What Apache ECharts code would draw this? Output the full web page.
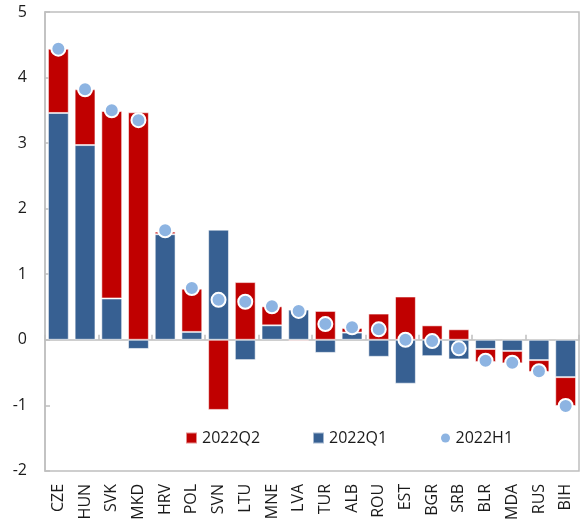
<!DOCTYPE html>
<html>
<head>
<meta charset="utf-8">
<script src="https://cdn.jsdelivr.net/npm/echarts@6/dist/echarts.min.js"></script>
<style>
  html, body { margin: 0; padding: 0; background: #fff; }
  #chart { width: 585px; height: 523px; }
</style>
</head>
<body>
<div id="chart"></div>
<script>
// Countries along the horizontal axis
const countries = ['CZE','HUN','SVK','MKD','HRV','POL','SVN','LTU','MNE','LVA',
                   'TUR','ALB','ROU','EST','BGR','SRB','BLR','MDA','RUS','BIH'];

// Quarterly contributions (stacked bars)
const q1Values = [3.46, 2.97, 0.63, -0.14, 1.61, 0.12, 1.68, -0.31, 0.22, 0.46,
                  -0.20, 0.11, -0.26, -0.67, -0.25, -0.30, -0.14, -0.17, -0.31, -0.57];
const q2Values = [0.98, 0.85, 2.86, 3.47, 0.04, 0.66, -1.07, 0.88, 0.29, -0.02,
                  0.44, 0.07, 0.40, 0.66, 0.22, 0.16, -0.20, -0.19, -0.18, -0.44];

// Half-year values (markers)
const h1Values = [4.44, 3.82, 3.50, 3.35, 1.67, 0.79, 0.61, 0.58, 0.51, 0.44,
                  0.24, 0.19, 0.16, 0.00, -0.02, -0.13, -0.32, -0.35, -0.48, -1.01];

// Value axis ticks
const yTicks = { min: -2, max: 5, step: 1 };

const FONT = "'Open Sans', 'Noto Sans', sans-serif";
const FRAME = '#bfbfbf';
const RED = '#c00000';
const BLUE = '#376092';
const DOT = '#8db4e2';
const INK = '#1a1a1a';

const chart = echarts.init(document.getElementById('chart'), null, { renderer: 'canvas' });

const legendText = { fontSize: 16, color: INK, fontFamily: FONT };
const legendBase = { padding: 0, top: 430, itemGap: 0, textStyle: legendText };

chart.setOption({
  animation: false,
  backgroundColor: '#fff',
  textStyle: { fontFamily: FONT },
  grid: {
    left: 45, right: 6, top: 12, bottom: 50,
    show: true, borderColor: FRAME, borderWidth: 1.5, backgroundColor: 'transparent'
  },
  legend: [
    Object.assign({}, legendBase, {
      left: 185, itemWidth: 11, itemHeight: 11,
      data: [{ name: '2022Q2', icon: 'rect' }]
    }),
    Object.assign({}, legendBase, {
      left: 312, itemWidth: 11, itemHeight: 11,
      data: [{ name: '2022Q1', icon: 'rect' }]
    }),
    Object.assign({}, legendBase, {
      left: 441, itemWidth: 10, itemHeight: 9,
      data: [{ name: '2022H1', icon: 'circle', itemStyle: { borderWidth: 0 } }]
    })
  ],
  xAxis: [
    {
      type: 'category',
      data: countries,
      position: 'bottom',
      axisLine: { show: false, onZero: false },
      axisTick: { show: false },
      axisLabel: { rotate: 90, margin: 13, fontSize: 16, color: INK, fontFamily: FONT, interval: 0 }
    },
    {
      type: 'category',
      data: countries,
      position: 'top',
      axisLine: { show: true, onZero: true, lineStyle: { color: FRAME, width: 1.5 } },
      axisTick: { show: true, inside: false, length: 5, lineStyle: { color: FRAME, width: 1.5 } },
      axisLabel: { show: false }
    }
  ],
  yAxis: {
    type: 'value',
    min: yTicks.min, max: yTicks.max, interval: yTicks.step,
    axisLine: { show: true, lineStyle: { color: FRAME, width: 1.5 } },
    axisTick: { show: true, inside: true, length: 5, lineStyle: { color: FRAME, width: 1.5 } },
    splitLine: { show: false },
    axisLabel: { fontSize: 16, color: INK, margin: 18, fontFamily: FONT }
  },
  series: [
    {
      name: '2022Q1',
      type: 'bar',
      stack: 'total',
      data: q1Values,
      barCategoryGap: '22%',
      itemStyle: { color: BLUE, borderColor: 'rgba(255,255,255,0.55)', borderWidth: 1 },
      z: 2
    },
    {
      name: '2022Q2',
      type: 'bar',
      stack: 'total',
      data: q2Values,
      barCategoryGap: '22%',
      itemStyle: { color: RED, borderColor: 'rgba(255,255,255,0.55)', borderWidth: 1 },
      z: 2
    },
    {
      name: '2022H1',
      type: 'scatter',
      data: h1Values,
      symbol: 'circle',
      symbolSize: 14,
      itemStyle: { color: DOT, borderColor: '#ffffff', borderWidth: 2, opacity: 1 },
      z: 5
    }
  ]
});
</script>
</body>
</html>
